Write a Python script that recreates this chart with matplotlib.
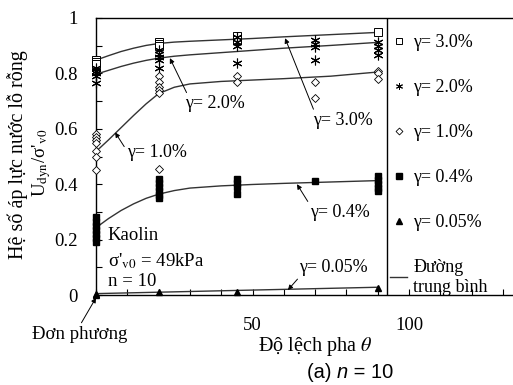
import numpy as np
import matplotlib
matplotlib.use("Agg")
import matplotlib.pyplot as plt
from matplotlib.lines import Line2D

plt.rcParams['font.family'] = ['Liberation Serif', 'DejaVu Serif']
plt.rcParams['mathtext.fontset'] = 'stix'

# measured points (phase lag theta, Udyn/sigma'v0)
g30_x = [0, 0, 0, 20, 20, 20, 45, 45, 90]
g30_y = [0.85, 0.84, 0.835, 0.913, 0.905, 0.90, 0.935, 0.92, 0.95]

g20_x = [0, 0, 0, 0, 0, 20, 20, 20, 20, 20, 45, 45, 45, 45, 70, 70, 70, 70, 90, 90, 90, 90]
g20_y = [0.82, 0.81, 0.80, 0.79, 0.765, 0.885, 0.87, 0.86, 0.85, 0.82,
         0.93, 0.915, 0.90, 0.837, 0.92, 0.905, 0.895, 0.85, 0.915, 0.90, 0.885, 0.865]

g10_x = [0, 0, 0, 0, 0, 0, 0, 20, 20, 20, 20, 20, 20, 45, 45, 70, 70, 90, 90, 90]
g10_y = [0.583, 0.57, 0.56, 0.547, 0.52, 0.50, 0.45, 0.79, 0.77, 0.75, 0.74, 0.73, 0.456,
         0.79, 0.77, 0.77, 0.71, 0.81, 0.80, 0.78]

g04_x = [0, 0, 0, 0, 0, 0, 0, 20, 20, 20, 20, 20, 20, 45, 45, 45, 45, 70, 90, 90, 90, 90, 90]
g04_y = [0.19, 0.205, 0.22, 0.235, 0.25, 0.265, 0.28, 0.42, 0.405, 0.39, 0.375, 0.36, 0.35,
         0.42, 0.405, 0.39, 0.366, 0.41, 0.43, 0.415, 0.40, 0.385, 0.375]

g005_x = [0, 0, 20, 45, 90]
g005_y = [0.0, 0.005, 0.01, 0.01, 0.027]

# average curves
m_x = [0, 4, 8, 12, 16, 20, 25, 30, 40, 50, 60, 75, 90]
m30_y = [0.848, 0.864, 0.879, 0.891, 0.901, 0.908, 0.913, 0.916, 0.921, 0.926, 0.932, 0.94, 0.948]
m20_y = [0.797, 0.811, 0.825, 0.837, 0.847, 0.855, 0.862, 0.867, 0.875, 0.883, 0.891, 0.901, 0.912]
m10_y = [0.518, 0.560, 0.604, 0.648, 0.690, 0.727, 0.750, 0.762, 0.771, 0.776, 0.781, 0.79, 0.805]
m04_y = [0.243, 0.276, 0.305, 0.329, 0.349, 0.364, 0.377, 0.386, 0.394, 0.399, 0.403, 0.408, 0.413]
m005_x = [0, 90]
m005_y = [0.005, 0.028]

labels = ['γ= 3.0%', 'γ= 2.0%', 'γ= 1.0%', 'γ= 0.4%', 'γ= 0.05%']

fig = plt.figure(figsize=(5.13, 3.85), dpi=100)
ax = fig.add_axes([96/513, 1-295/385, 1-96/513, 277/385])

lc = '#333333'
for xx, yy in [(m_x, m30_y), (m_x, m20_y), (m_x, m10_y), (m_x, m04_y), (m005_x, m005_y)]:
    ax.plot(xx, yy, color=lc, lw=1.0, zorder=2)

ms = dict(ls='none', clip_on=False, zorder=3)
ax.plot(g30_x, g30_y, marker='s', ms=5.5, mfc='white', mec='k', mew=0.7, **ms)
ax.plot(g20_x, g20_y, marker=(6, 2, 0), ms=7, mec='k', mew=0.8, **ms)
ax.plot(g10_x, g10_y, marker='D', ms=4, mfc='white', mec='k', mew=0.6, **ms)
ax.plot(g04_x, g04_y, marker='s', ms=5, mfc='k', mec='k', **ms)
ax.plot(g005_x, g005_y, marker='^', ms=5, mfc='k', mec='k', **ms)

ax.set_xlim(0, 133.2)
ax.set_ylim(0, 1)
ax.spines['right'].set_visible(False)
for s in ['left', 'bottom', 'top']:
    ax.spines[s].set_linewidth(1.0)
ax.axvline(93, color='k', lw=1.0)

ax.set_xticks([0, 50, 100])
ax.set_xticklabels(['', '50', '100'])
ax.set_xticks(np.arange(0, 134, 10), minor=True)
ax.set_yticks([0, 0.2, 0.4, 0.6, 0.8, 1.0])
ax.set_yticklabels(['0', '0.2', '0.4', '0.6', '0.8', '1'])
ax.set_yticks(np.arange(0, 1.01, 0.1), minor=True)
ax.tick_params(which='both', direction='in', length=4, width=0.8, top=False, right=False)
ax.tick_params(axis='y', labelsize=13.5, pad=13)
ax.tick_params(axis='x', labelsize=13.5, pad=16)

# annotations
ak = dict(arrowstyle='-|>', color='k', lw=0.7, mutation_scale=7, shrinkA=0, shrinkB=0)
ax.annotate('γ= 2.0%', xy=(23.6, 0.855), xytext=(28.4, 0.69), fontsize=13, va='center',
            arrowprops=dict(relpos=(0.05, 1.0), **ak))
ax.annotate('γ= 1.0%', xy=(6.1, 0.587), xytext=(9.9, 0.514), fontsize=13, va='center',
            arrowprops=dict(relpos=(0.0, 0.6), **ak))
ax.annotate('γ= 3.0%', xy=(60.4, 0.927), xytext=(69.3, 0.63), fontsize=13, va='center',
            arrowprops=dict(relpos=(0.05, 0.8), **ak))
ax.annotate('γ= 0.4%', xy=(64.2, 0.40), xytext=(68.5, 0.297), fontsize=13, va='center',
            arrowprops=dict(relpos=(0.02, 0.8), **ak))
ax.annotate('γ= 0.05%', xy=(61.3, 0.018), xytext=(65, 0.098), fontsize=13, va='center',
            arrowprops=dict(relpos=(0.05, 0.2), **ak))
ax.annotate('Đơn phương', xy=(0, -0.01), xytext=(-20.4, -0.141), fontsize=13.5, va='center',
            annotation_clip=False, arrowprops=dict(relpos=(0.5, 1.0), **ak))

ax.text(3.8, 0.214, 'Kaolin', fontsize=13.5, va='center')
ax.text(3.8, 0.123, "σ'$_{\\rm v0}$ = 49kPa", fontsize=13.5, va='center')
ax.text(3.8, 0.047, 'n = 10', fontsize=13.5, va='center')

# y labels
fig.text(18/513, 1-155/385, 'Hệ số áp lực nước lỗ rỗng', rotation=90, fontsize=14.5,
         ha='center', va='center')
fig.text(42/513, 1-163/385, "U$_{\\rm dyn}$/σ'$_{\\rm v0}$", rotation=90, fontsize=13.5,
         ha='center', va='center')

fig.text(315/513, 1-346/385, 'Độ lệch pha $\\theta$', fontsize=14.5, ha='center', va='center')

# caption "(a) n = 10" in sans
fig.canvas.draw()
r = fig.canvas.get_renderer()
cap_y = 1-372/385
t1 = fig.text(307/513, cap_y, '(a) ', fontsize=14.5, family='Liberation Sans', va='center')
bb = t1.get_window_extent(r)
t2 = fig.text(bb.x1/513, cap_y, 'n', fontsize=14.5, family='Liberation Sans', style='italic', va='center')
bb = t2.get_window_extent(r)
fig.text(bb.x1/513, cap_y, ' = 10', fontsize=14.5, family='Liberation Sans', va='center')

# legend
handles = [
    Line2D([], [], ls='none', marker='s', ms=4.5, mfc='white', mec='k', mew=0.7),
    Line2D([], [], ls='none', marker=(6, 2, 0), ms=5, mec='k', mew=0.7),
    Line2D([], [], ls='none', marker='D', ms=3.5, mfc='white', mec='k', mew=0.6),
    Line2D([], [], ls='none', marker='s', ms=4.5, mfc='k', mec='k'),
    Line2D([], [], ls='none', marker='^', ms=4.5, mfc='k', mec='k'),
    Line2D([], [], color=lc, lw=1.0),
]
fig.legend(handles, labels + ['Đường\ntrung bình'], loc='upper left',
           bbox_to_anchor=(390/513, 1-34/385), frameon=False, fontsize=13,
           handlelength=0.95, handletextpad=0.35, labelspacing=1.55, borderpad=0,
           borderaxespad=0)

fig.savefig('out.png', dpi=100)
